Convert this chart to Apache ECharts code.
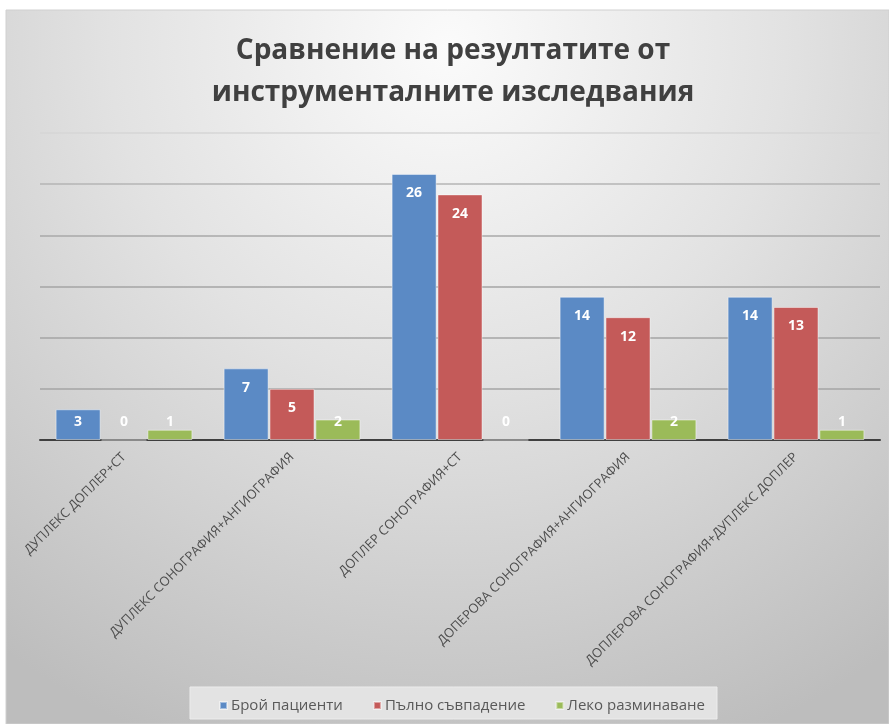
<!DOCTYPE html>
<html>
<head>
<meta charset="utf-8">
<script src="https://cdn.jsdelivr.net/npm/echarts@6/dist/echarts.min.js"></script>
<style>
  html, body { margin: 0; padding: 0; background: #ffffff; }
  #chart { width: 889px; height: 724px; }
</style>
</head>
<body>
<div id="chart"></div>
<script>
// Categories (examination combinations)
const categories = [
  'ДУПЛЕКС ДОПЛЕР+СТ',
  'ДУПЛЕКС СОНОГРАФИЯ+АНГИОГРАФИЯ',
  'ДОПЛЕР СОНОГРАФИЯ+СТ',
  'ДОПЕРОВА СОНОГРАФИЯ+АНГИОГРАФИЯ',
  'ДОПЛЕРОВА СОНОГРАФИЯ+ДУПЛЕКС ДОПЛЕР'
];

// Series values
const patients = [3, 7, 26, 14, 14];
const fullMatch = [0, 5, 24, 12, 13];
const slightDiff = [1, 2, 0, 2, 1];

const seriesNames = ['Брой пациенти', 'Пълно съвпадение', 'Леко разминаване'];
const seriesColors = ['#5B8AC5', '#C45A59', '#9BBB59'];

const chart = echarts.init(document.getElementById('chart'), null, { renderer: 'canvas' });

// Value labels sit just inside the top of each bar, but never lower than a fixed
// distance above the axis so that short bars still show a readable label.
function labelLayout(p) {
  const r = p.rect;
  const bottom = r.y + r.height;
  const cy = Math.min(r.y + 19.5, bottom - 18);
  return { x: r.x + r.width / 2, y: cy, align: 'center', verticalAlign: 'middle' };
}

function makeSeries(name, values, color) {
  return {
    name: name,
    type: 'bar',
    data: values,
    barWidth: 45,
    barGap: '2%',
    itemStyle: { color: color, borderColor: 'rgba(255,255,255,0.45)', borderWidth: 1 },
    label: {
      show: true,
      position: 'insideTop',
      color: '#ffffff',
      fontFamily: 'Open Sans',
      fontWeight: 'bold',
      fontSize: 14
    },
    labelLayout: labelLayout
  };
}

const option = {
  animation: false,
  graphic: [
    {
      type: 'rect',
      z: -10,
      shape: { x: 6, y: 10, width: 883, height: 714 },
      style: {
        fill: new echarts.graphic.RadialGradient(0.5, 0.05, 1.05, [
          { offset: 0, color: '#fbfbfb' },
          { offset: 0.45, color: '#e2e2e2' },
          { offset: 1, color: '#bdbdbd' }
        ]),
        stroke: '#d0d0d0',
        lineWidth: 1
      }
    },
    {
      type: 'rect',
      z: -5,
      shape: { x: 190, y: 687, width: 527, height: 32 },
      style: { fill: '#e3e3e3', stroke: '#ececec', lineWidth: 1 }
    }
  ],
  title: {
    text: 'Сравнение на резултатите от\nинструменталните изследвания',
    left: 448,
    textAlign: 'center',
    top: 25,
    textStyle: {
      fontFamily: 'Open Sans',
      fontWeight: 'bold',
      fontSize: 28,
      lineHeight: 42,
      color: '#404040'
    }
  },
  legend: {
    data: seriesNames,
    left: 214,
    top: 693,
    itemWidth: 7,
    itemHeight: 7,
    itemGap: 30,
    icon: 'rect',
    textStyle: { fontFamily: 'Open Sans', fontSize: 15, color: '#595959', padding: [0, 0, 0, -1] }
  },
  grid: { left: 40, right: 9, top: 133, bottom: 284, containLabel: false },
  xAxis: {
    type: 'category',
    data: categories,
    axisLine: { lineStyle: { color: '#3f3f3f', width: 2 } },
    axisTick: { show: false },
    axisLabel: {
      rotate: 45,
      interval: 0,
      margin: 15,
      fontFamily: 'Open Sans',
      fontSize: 13,
      color: '#4d4d4d'
    }
  },
  yAxis: {
    type: 'value',
    min: 0,
    max: 30,
    interval: 5,
    axisLabel: { show: false },
    axisLine: { show: false },
    axisTick: { show: false },
    splitLine: {
      lineStyle: {
        color: ['#a5a5a5', '#a5a5a5', '#a5a5a5', '#a5a5a5', '#a8a8a8', '#b4b4b4', '#d6d6d6'],
        width: 1.5
      }
    }
  },
  series: [
    makeSeries(seriesNames[0], patients, seriesColors[0]),
    makeSeries(seriesNames[1], fullMatch, seriesColors[1]),
    makeSeries(seriesNames[2], slightDiff, seriesColors[2])
  ]
};

chart.setOption(option);
</script>
</body>
</html>
